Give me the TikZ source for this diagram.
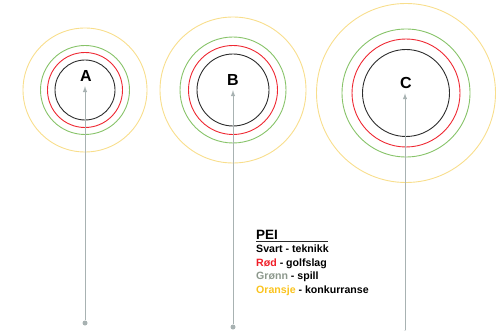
\documentclass[tikz,border=0pt]{standalone}
\usepackage{fontspec}
\setmainfont{Liberation Sans}
\usetikzlibrary{positioning}

\definecolor{ringBlack}{RGB}{45,45,45}
\definecolor{ringRed}{RGB}{238,40,50}
\definecolor{ringGreen}{RGB}{135,195,105}
\definecolor{ringOrange}{RGB}{248,222,140}
\definecolor{stemGray}{RGB}{168,178,178}
\definecolor{txtRed}{RGB}{240,30,40}
\definecolor{txtGreen}{RGB}{140,152,140}
\definecolor{txtOrange}{RGB}{250,195,30}

\tikzset{
	ring/.style={line width=0.9pt},
	stem/.style={draw=stemGray, line width=1pt, -latex},
	foot/.style={circle, fill=stemGray, inner sep=0pt, minimum size=5pt},
	letter/.style={font=\bfseries\fontsize{16}{16}\selectfont, inner sep=4.5pt},
	legend/.style={anchor=base west, inner sep=0pt, font=\bfseries\fontsize{10.6}{11}\selectfont}
}

\begin{document}
\begin{tikzpicture}[x=1pt,y=-1pt]
			\useasboundingbox (0,0) rectangle (497,331);
			
			% target A
			\draw[ring,draw=ringOrange] (85,90) circle (62pt);
			\draw[ring,draw=ringGreen] (85,90) circle (44.5pt);
			\draw[ring,draw=ringRed] (85,90) circle (37.5pt);
			\draw[ring,draw=ringBlack] (85,90) circle (30pt);
			\node[letter] (lblA) at (86,76) {A};
			\node[foot] (footA) at (85,323) {};
			\draw[stem] (footA) -- (footA |- lblA.south);
			
			% target B
			\draw[ring,draw=ringOrange] (233,90) circle (73pt);
			\draw[ring,draw=ringGreen] (233,90) circle (53pt);
			\draw[ring,draw=ringRed] (233,90) circle (44.5pt);
			\draw[ring,draw=ringBlack] (233,90) circle (36pt);
			\node[letter] (lblB) at (233,80) {B};
			\node[foot] (footB) at (233,327) {};
			\draw[stem] (footB) -- (footB |- lblB.south);
			
			% target C
			\draw[ring,draw=ringOrange] (406,93) circle (89.5pt);
			\draw[ring,draw=ringGreen] (406,93) circle (64pt);
			\draw[ring,draw=ringRed] (406,93) circle (54pt);
			\draw[ring,draw=ringBlack] (406,93) circle (43.5pt);
			\node[letter] (lblC) at (406,83) {C};
			\node[foot] (footC) at (405,333) {};
			\draw[stem] (footC) -- (footC |- lblC.south);
			
			% legend
			\node[legend, font=\bfseries\fontsize{13.5}{14}\selectfont] (pei) at (256,239.5) {PEI};
			\draw[ringBlack, line width=0.8pt] ([yshift=-1.5pt]pei.base west) -- ++(72,0);
			\node[legend] (svart) at (256,252.5) {Svart - teknikk};
			\node[legend] (rod) at (256,266) {\textcolor{txtRed}{Rød} - golfslag};
			\node[legend] (gronn) at (256,279.5) {\textcolor{txtGreen}{Grønn} - spill};
			\node[legend] (oransje) at (256,293) {\textcolor{txtOrange}{Oransje} - konkurranse};
		\end{tikzpicture}
\end{document}
